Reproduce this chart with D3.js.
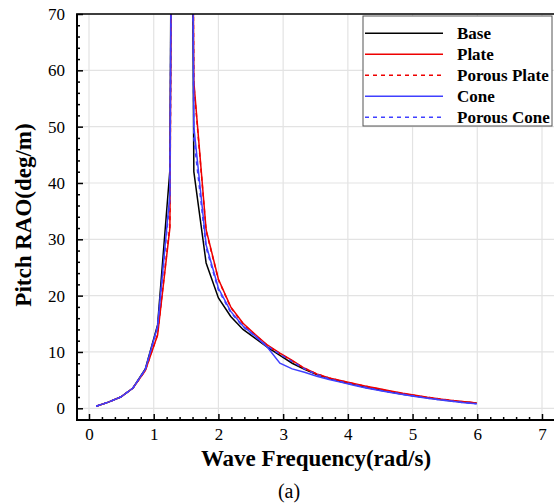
<!DOCTYPE html>
<html><head><meta charset="utf-8">
<script src="https://cdn.jsdelivr.net/npm/d3@7"></script>
<style>html,body{margin:0;padding:0;background:#fff;}svg{display:block;}</style>
</head><body>
<svg id="c" width="554" height="504"></svg>
<script>
const freq = [0.11,0.30,0.49,0.68,0.87,1.06,1.25,1.43,1.62,1.81,2.00,2.19,2.38,2.57,2.76,2.95,3.14,3.33,3.52,3.71,3.90,4.09,4.28,4.47,4.66,4.85,5.04,5.23,5.42,5.61,5.80,5.99];
const base = [0.35,1.1,2.0,3.6,7.0,14.8,42.3,420,42.0,25.8,19.6,16.3,14.0,12.4,10.8,9.4,8.0,6.9,6.0,5.3,4.7,4.2,3.7,3.3,2.9,2.5,2.2,1.85,1.55,1.3,1.1,0.9];
const plate = [0.35,1.1,2.0,3.6,6.7,13.0,32.0,420,58.0,31.7,22.9,18.0,15.1,13.1,11.2,9.8,8.5,7.1,6.1,5.4,4.9,4.4,3.9,3.5,3.05,2.65,2.3,1.95,1.65,1.4,1.15,0.95];
const porousPlate = [0.35,1.1,2.0,3.6,6.7,13.1,32.5,420,57.5,31.5,22.8,17.9,15.0,13.0,11.1,9.7,8.4,7.1,6.1,5.4,4.85,4.35,3.9,3.45,3.0,2.6,2.25,1.95,1.65,1.4,1.15,0.95];
const cone = [0.35,1.1,2.0,3.6,6.9,14.5,38.0,420,50.0,29.0,21.3,17.2,14.6,12.8,10.8,8.0,7.0,6.4,5.7,5.1,4.6,4.1,3.6,3.2,2.8,2.45,2.1,1.8,1.5,1.25,1.0,0.8];
const porousCone = [0.35,1.1,2.0,3.6,6.9,14.5,37.0,420,48.0,28.5,21.0,17.0,14.5,12.7,11.0,9.6,8.3,7.0,6.0,5.2,4.7,4.2,3.7,3.25,2.85,2.5,2.15,1.8,1.5,1.25,1.0,0.8];
const seriesNames = ["Base","Plate","Porous Plate","Cone","Porous Cone"];
const seriesColors = ["#000000","#ee0000","#ee0000","#4040ff","#4040ff"];
const seriesDash = [null,null,"4,4",null,"4,4"];
const xTicks = [0,1,2,3,4,5,6,7];
const yTicks = [0,10,20,30,40,50,60,70];

const svg = d3.select("#c");
const L = 77, T = 14, R = 555, B = 420;
const x = d3.scaleLinear().domain([-0.1854, 7.201]).range([L, R]);
const y = d3.scaleLinear().domain([-2.08, 70]).range([B, T]);

// grid
const g = svg.append("g");
g.selectAll(".gx").data(xTicks).join("line")
  .attr("x1", d => x(d)).attr("x2", d => x(d)).attr("y1", T).attr("y2", B)
  .attr("stroke", "#e3e3e3").attr("stroke-width", 1.2);
g.selectAll(".gy").data(yTicks).join("line")
  .attr("x1", L).attr("x2", R).attr("y1", d => y(d)).attr("y2", d => y(d))
  .attr("stroke", "#e3e3e3").attr("stroke-width", 1.2);

// clip
svg.append("clipPath").attr("id", "clip").append("rect")
  .attr("x", L).attr("y", T).attr("width", R - L).attr("height", B - T);

const all = [base, plate, porousPlate, cone, porousCone];
const line = d3.line().x((d, i) => x(freq[i])).y(d => y(d));
const lg = svg.append("g").attr("clip-path", "url(#clip)");
all.forEach((s, k) => {
  lg.append("path").datum(s).attr("d", line).attr("fill", "none")
    .attr("stroke", seriesColors[k]).attr("stroke-width", 1.5)
    .attr("stroke-dasharray", seriesDash[k]);
});

// axes
const fmt = d3.format("d");
const xAxis = d3.axisBottom(x).tickValues(xTicks).tickSize(-6).tickPadding(8).tickFormat(fmt);
const yAxis = d3.axisLeft(y).tickValues(yTicks).tickSize(-6).tickPadding(12).tickFormat(fmt);
const xMinor = d3.axisBottom(x).tickValues(d3.range(1, 36).map(i => i * 0.2).filter(v => Math.abs(v - Math.round(v)) > 1e-6)).tickSize(-3).tickFormat("");
const yMinor = d3.axisLeft(y).tickValues(d3.range(1, 35).map(i => i * 2).filter(v => v % 10 !== 0)).tickSize(-3).tickFormat("");

function styleAxis(sel) {
  sel.select(".domain").remove();
  sel.selectAll("line").attr("stroke", "#000").attr("stroke-width", 1.5);
  sel.selectAll("text").attr("font-family", "'Liberation Serif', 'Times New Roman', serif")
    .attr("font-size", 17).attr("fill", "#000");
}
svg.append("g").attr("transform", `translate(0,${B})`).call(xMinor).call(styleAxis);
svg.append("g").attr("transform", `translate(${L},0)`).call(yMinor).call(styleAxis);
svg.append("g").attr("transform", `translate(0,${B})`).call(xAxis).call(styleAxis);
svg.append("g").attr("transform", `translate(${L},0)`).call(yAxis).call(styleAxis);

// frame
svg.append("line").attr("x1", L).attr("x2", R).attr("y1", B).attr("y2", B).attr("stroke", "#000").attr("stroke-width", 2);
svg.append("line").attr("x1", L).attr("x2", L).attr("y1", T).attr("y2", B + 1).attr("stroke", "#000").attr("stroke-width", 2);
svg.append("line").attr("x1", L - 1).attr("x2", R).attr("y1", T).attr("y2", T).attr("stroke", "#000").attr("stroke-width", 1.5);

// titles
svg.append("text").attr("x", 316).attr("y", 466).attr("text-anchor", "middle")
  .attr("font-family", "'Liberation Serif', serif").attr("font-weight", "bold").attr("font-size", 23)
  .text("Wave Frequency(rad/s)");
svg.append("text").attr("transform", "translate(31,215) rotate(-90)").attr("text-anchor", "middle")
  .attr("font-family", "'Liberation Serif', serif").attr("font-weight", "bold").attr("font-size", 23)
  .text("Pitch RAO(deg/m)");
svg.append("text").attr("x", 289).attr("y", 498).attr("text-anchor", "middle")
  .attr("font-family", "'Liberation Serif', serif").attr("font-size", 20)
  .text("(a)");

// legend
const leg = svg.append("g");
leg.append("rect").attr("x", 363).attr("y", 16).attr("width", 189).attr("height", 110)
  .attr("fill", "#fff").attr("stroke", "#555").attr("stroke-width", 1);
seriesNames.forEach((n, k) => {
  const yy = 33.3 + k * 21;
  leg.append("line").attr("x1", 365).attr("x2", 443).attr("y1", yy).attr("y2", yy)
    .attr("stroke", seriesColors[k]).attr("stroke-width", 1.5).attr("stroke-dasharray", seriesDash[k]);
  leg.append("text").attr("x", 457).attr("y", yy + 6)
    .attr("font-family", "'Liberation Serif', serif").attr("font-weight", "bold").attr("font-size", 17)
    .text(n);
});
</script>
</body></html>
